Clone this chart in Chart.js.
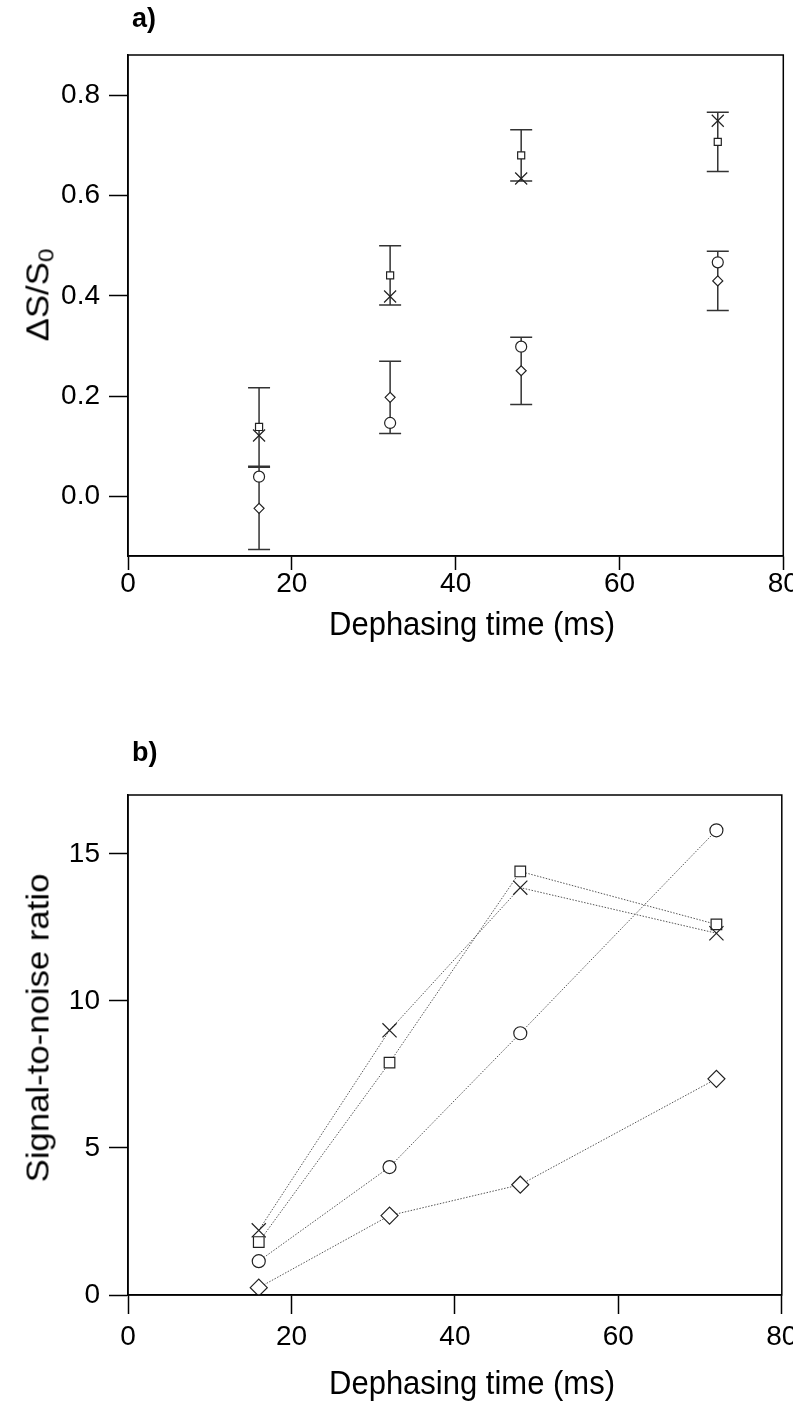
<!DOCTYPE html>
<html>
<head>
<meta charset="utf-8">
<script src="https://cdn.jsdelivr.net/npm/chart.js@4"></script>
<style>
  body { margin: 0; background: #fff; }
  #wrap { position: relative; width: 793px; height: 1402px; font-family: "Liberation Sans", Arial, sans-serif; color: #000; }
  canvas { position: absolute; left: 0; }
  .lbl { position: absolute; white-space: nowrap; line-height: 1; }
  .panel { font-weight: bold; font-size: 27px; }
  .xtitle { font-size: 31px; transform: translate(-50%, -50%) scaleY(1.1); }
  .ytitle { font-size: 31px; transform: translate(-50%, -50%) rotate(-90deg) scaleX(1.12); }
  sub { font-size: 0.7em; vertical-align: -0.25em; }
</style>
</head>
<body>
<div id="wrap">
  <canvas id="chartA" width="793" height="700" style="top:0"></canvas>
  <canvas id="chartB" width="793" height="702" style="top:700px"></canvas>
  <div class="lbl panel" style="left:132px; top:5px">a)</div>
  <div class="lbl panel" style="left:132px; top:739px">b)</div>
  <div class="lbl ytitle" style="left:40px; top:295px">ΔS/S<sub>0</sub></div>
  <div class="lbl xtitle" style="left:472px; top:623px">Dephasing time (ms)</div>
  <div class="lbl ytitle" style="left:38px; top:1028px">Signal-to-noise ratio</div>
  <div class="lbl xtitle" style="left:472px; top:1382px">Dephasing time (ms)</div>
</div>
<script>
/* DATA */
const times = [16, 32, 48, 72];
const xTicks = [0, 20, 40, 60, 80];
const yTicksA = [0, 0.2, 0.4, 0.6, 0.8];
const yTicksB = [0, 5, 10, 15];

// PANEL A: delta S / S0
const dsSquare = [0.139, 0.441, 0.68, 0.707];
const dsSquareErr = [0.078, 0.059, 0.051, 0.059];
const dsCross = [0.122, 0.399, 0.634, 0.749];
const dsCircle = [0.04, 0.147, 0.299, 0.467];
const dsDiamond = [-0.023, 0.198, 0.251, 0.43];
const dsDiamondErr = [0.082, 0.072, 0.067, 0.059];

// PANEL B: signal-to-noise
const snrCross = [2.2, 9.0, 13.85, 12.3];
const snrSquare = [1.8, 7.9, 14.4, 12.6];
const snrCircle = [1.15, 4.35, 8.9, 15.8];
const snrDiamond = [0.25, 2.7, 3.75, 7.35];

const FONT = "'Liberation Sans', Arial, sans-serif";
const INK = "#222";

function pts(ys) {
  return ys.map((y, i) => ({ x: times[i], y: y }));
}

// draws the top and right edges of the box
const boxPlugin = {
  id: "box",
  afterDraw(chart) {
    const { ctx, chartArea } = chart;
    ctx.save();
    ctx.strokeStyle = "#000";
    ctx.lineWidth = 1.5;
    ctx.strokeRect(chartArea.left, chartArea.top, chartArea.right - chartArea.left, chartArea.bottom - chartArea.top);
    ctx.restore();
  },
};

// vertical error bars with caps, read from the dataset's err array
const errPlugin = {
  id: "errBars",
  beforeDatasetsDraw(chart) {
    const { ctx } = chart;
    const xs = chart.scales.x;
    const ys = chart.scales.y;
    ctx.save();
    ctx.strokeStyle = "#333";
    ctx.lineWidth = 1.5;
    chart.data.datasets.forEach((ds) => {
      if (!ds.err) return;
      ds.data.forEach((p, i) => {
        const px = xs.getPixelForValue(p.x);
        const top = ys.getPixelForValue(p.y + ds.err[i]);
        const bot = ys.getPixelForValue(p.y - ds.err[i]);
        ctx.beginPath();
        ctx.moveTo(px, top);
        ctx.lineTo(px, bot);
        ctx.moveTo(px - 11, top);
        ctx.lineTo(px + 11, top);
        ctx.moveTo(px - 11, bot);
        ctx.lineTo(px + 11, bot);
        ctx.stroke();
      });
    });
    ctx.restore();
  },
};

function axisX(height, tickLen, pad) {
  return {
    type: "linear",
    min: 0,
    max: 80,
    afterBuildTicks: (s) => { s.ticks = xTicks.map((v) => ({ value: v })); },
    afterFit: (s) => {
      s.height = height;
      s.paddingLeft = 0;
      s.paddingRight = 0;
    },
    grid: { display: true, drawOnChartArea: false, drawTicks: true, tickLength: tickLen, tickWidth: 1.5, tickColor: "#000" },
    border: { display: true, color: "#000", width: 1.5 },
    ticks: { color: "#000", padding: pad, font: { family: FONT, size: 28, lineHeight: 1 }, maxRotation: 0 },
  };
}

function axisY(min, max, tickVals, digits) {
  return {
    type: "linear",
    min: min,
    max: max,
    afterBuildTicks: (s) => { s.ticks = tickVals.map((v) => ({ value: v })); },
    afterFit: (s) => {
      s.width = 128;
      s.paddingTop = 0;
      s.paddingBottom = 0;
    },
    grid: { display: true, drawOnChartArea: false, drawTicks: true, tickLength: 19, tickWidth: 1.5, tickColor: "#000" },
    border: { display: true, color: "#000", width: 1.5 },
    ticks: { color: "#000", padding: 9, font: { family: FONT, size: 28, lineHeight: 1 }, callback: (v) => Number(v).toFixed(digits) },
  };
}

function series(data, style, radius, extra) {
  return Object.assign({
    data: pts(data),
    pointStyle: style,
    pointRadius: radius,
    pointHoverRadius: radius,
    pointBorderColor: INK,
    pointBackgroundColor: "#fff",
    pointBorderWidth: 1.2,
    borderColor: "#555",
    borderWidth: 1,
    borderDash: [1.5, 1.5],
    showLine: false,
  }, extra || {});
}

const baseOpts = {
  responsive: false,
  animation: false,
  plugins: { legend: { display: false }, tooltip: { enabled: false } },
};

/* PANEL A */
new Chart(document.getElementById("chartA"), {
  type: "scatter",
  data: {
    datasets: [
      series(dsSquare, "rect", 5, { err: dsSquareErr }),
      series(dsDiamond, "rectRot", 5, { err: dsDiamondErr }),
      series(dsCross, "crossRot", 8.5),
      series(dsCircle, "circle", 5.5),
    ],
  },
  options: Object.assign({}, baseOpts, {
    layout: { padding: { top: 55, right: 9, left: 0, bottom: 0 } },
    scales: { x: axisX(144, 14, 0), y: axisY(-0.118, 0.88, yTicksA, 1) },
  }),
  plugins: [errPlugin, boxPlugin],
});

/* PANEL B */
new Chart(document.getElementById("chartB"), {
  type: "scatter",
  data: {
    datasets: [
      series(snrCross, "crossRot", 10, { showLine: true }),
      series(snrSquare, "rect", 7.5, { showLine: true }),
      series(snrCircle, "circle", 6.5, { showLine: true }),
      series(snrDiamond, "rectRot", 8.5, { showLine: true }),
    ],
  },
  options: Object.assign({}, baseOpts, {
    layout: { padding: { top: 95, right: 9, left: 0, bottom: 0 } },
    scales: { x: axisX(107, 19, 9), y: axisY(0, 17, yTicksB, 0) },
  }),
  plugins: [boxPlugin],
});
</script>
</body>
</html>
